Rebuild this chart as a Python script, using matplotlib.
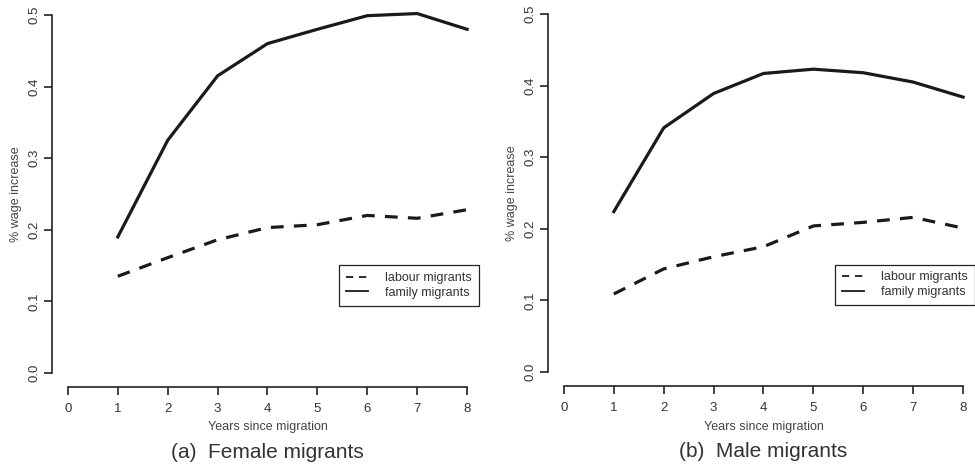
import numpy as np
import matplotlib
matplotlib.use("Agg")
import matplotlib.pyplot as plt

#===========================
# DATA
#===========================
years=[1,2,3,4,5,6,7,8]
female_labour=[0.135,0.161,0.186,0.203,0.207,0.220,0.216,0.228]
female_family=[0.190,0.325,0.415,0.460,0.480,0.499,0.502,0.480]
male_labour=[0.109,0.144,0.161,0.175,0.204,0.209,0.216,0.201]
male_family=[0.224,0.341,0.389,0.417,0.423,0.418,0.405,0.384]
xticks=[0,1,2,3,4,5,6,7,8]
yticks=[0.0,0.1,0.2,0.3,0.4,0.5]
titles=["(a)  Female migrants","(b)  Male migrants"]

plt.rcParams['font.family']=['Liberation Sans','DejaVu Sans']

fig=plt.figure(figsize=(9.75,4.66),dpi=100)

#===========================
# PANELS
#===========================
def panel(rect,labour,family,title):
    ax=fig.add_axes(rect)
    ax.plot(years,labour,color='#1a1a1a',lw=2.3,linestyle=(0,(4,3.2)),label='labour migrants')
    ax.plot(years,family,color='#1a1a1a',lw=2.3,label='family migrants')
    ax.set_xlim(-0.32,8.32)
    ax.set_ylim(-0.02,0.52)
    #*** R-like detached axes ***
    for s in ['top','right']:
        ax.spines[s].set_visible(False)
    ax.spines['left'].set_bounds(0,0.5)
    ax.spines['bottom'].set_bounds(0,8)
    for s in ['left','bottom']:
        ax.spines[s].set_linewidth(1.2)
        ax.spines[s].set_color('#222222')
    ax.set_xticks(xticks)
    ax.set_yticks(yticks)
    ax.set_yticklabels(["%0.1f"%v for v in yticks],rotation=90,va='center')
    ax.tick_params(axis='both',direction='out',length=6,width=1.2,color='#222222',
                   labelsize=9.5,labelcolor='#333333',pad=5)
    ax.tick_params(axis='y',pad=2)
    ax.set_xlabel("Years since migration",fontsize=9,color='#444444',labelpad=5)
    ax.set_ylabel("% wage increase",fontsize=9,color='#444444',labelpad=5)
    leg=ax.legend(loc='upper right',bbox_to_anchor=(0.99,0.315),borderaxespad=0,
                  fancybox=False,edgecolor='#222222',framealpha=1,fontsize=9,
                  handlelength=1.7,handletextpad=1.4,borderpad=0.55,labelspacing=0.2)
    leg.get_frame().set_linewidth(0.9)
    for t in leg.get_texts():
        t.set_color('#333333')
    for h in leg.get_lines():
        h.set_linewidth(1.3)
    ax.text(0.5,-0.168,title,transform=ax.transAxes,ha='center',va='center',
            fontsize=15,color='#333333')
    return ax

A=panel([0.0533,0.169,0.4421,0.8296],female_labour,female_family,titles[0])
B=panel([0.562,0.171,0.4421,0.8296],male_labour,male_family,titles[1])

fig.savefig("out.png",dpi=100)
